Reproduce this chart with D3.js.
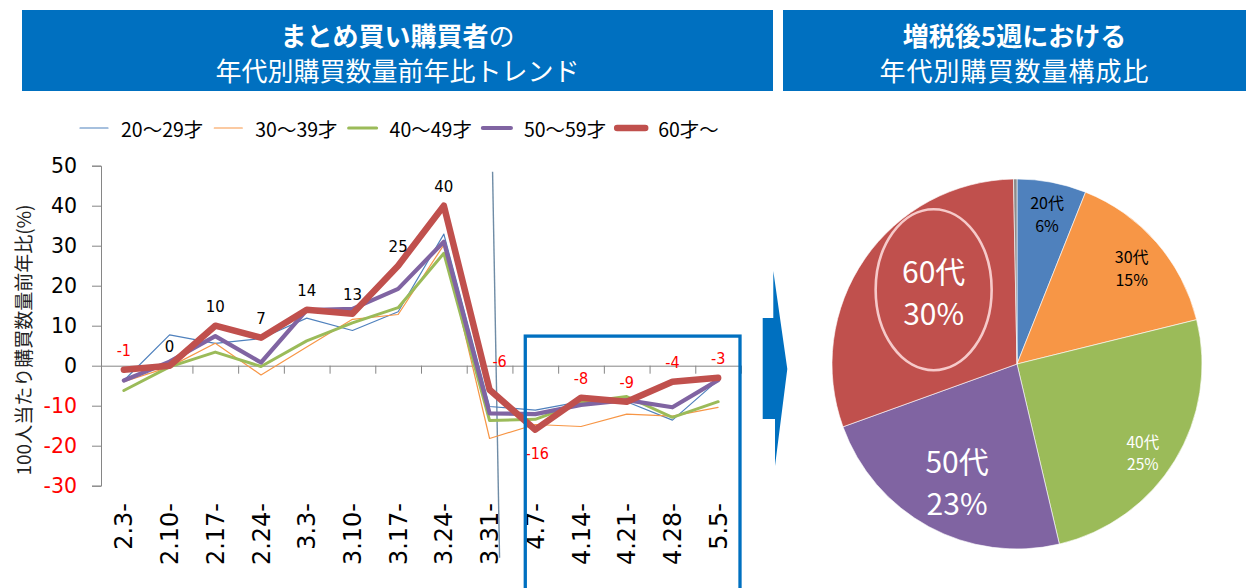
<!DOCTYPE html>
<html lang="ja">
<head>
<meta charset="utf-8">
<script src="https://cdn.jsdelivr.net/npm/d3@7"></script>
<style>
  html, body { margin: 0; padding: 0; background: #fff; }
  svg { display: block; }
  .jp { font-family: "Noto Sans CJK JP", "Noto Sans", sans-serif; }
  .num { font-family: "DejaVu Sans", sans-serif; }
</style>
</head>
<body>
<svg id="chart" width="1246" height="588"></svg>
<script>
// ---- data ----
const weeks = ["2.3", "2.10", "2.17", "2.24", "3.3", "3.10", "3.17", "3.24", "3.31", "4.7", "4.14", "4.21", "4.28", "5.5"];
const weekLabels = ["2.3-", "2.10-", "2.17-", "2.24-", "3.3-", "3.10-", "3.17-", "3.24-", "3.31-", "4.7-", "4.14-", "4.21-", "4.28-", "5.5-"];
const seriesNames = ["20～29才", "30～39才", "40～49才", "50～59才", "60才～"];
const age20s = [-3.7, 7.7, 5.6, 6.8, 11.9, 8.8, 13.5, 32.9, -10.2, -11.1, -9.0, -9.0, -13.6, -3.6];
const age30s = [-4.0, -0.3, 5.6, -2.3, 4.7, 11.6, 12.8, 30.2, -18.2, -14.7, -15.2, -12.1, -12.6, -10.4];
const age40s = [-6.2, -0.3, 3.4, -0.2, 6.2, 10.7, 14.5, 28.1, -13.7, -13.4, -9.2, -7.7, -12.9, -9.0];
const age50s = [-3.7, 1.0, 7.4, 0.8, 13.9, 14.2, 19.2, 31.0, -11.9, -12.1, -9.8, -8.6, -10.4, -3.6];
const age60s = [-1, 0, 10, 7, 14, 13, 25, 40, -6, -16, -8, -9, -4, -3];
const yTicks = [-30, -20, -10, 0, 10, 20, 30, 40, 50];

const pieNames = ["20代", "30代", "40代", "50代", "60代", ""];
const pieShares = [6, 15, 25, 23, 30, 0.3];

// ---- styles ----
const seriesColors = ["#4F81BD", "#F79646", "#9BBB59", "#8064A2", "#C0504D"];
const seriesWidths = [1.2, 1.2, 3, 4.2, 6.5];
const pieColors = ["#4F81BD", "#F79646", "#9BBB59", "#8064A2", "#C0504D", "#8C8C8C"];
const blue = "#0070C0";
const plain = d => String(d);   // keeps an ASCII hyphen for negatives

const svg = d3.select("#chart");

// ---- header bars ----
const headers = [
  { x0: 22, x1: 773, bold: "まとめ買い購買者", rest: "の", line2: "年代別購買数量前年比トレンド", ls: 0 },
  { x0: 783, x1: 1246, bold: "増税後5週における", rest: "", line2: "年代別購買数量構成比", ls: 1 }
];
headers.forEach(h => {
  svg.append("rect").attr("x", h.x0).attr("y", 10).attr("width", h.x1 - h.x0).attr("height", 81).attr("fill", blue);
  const cx = (h.x0 + h.x1) / 2;
  const t1 = svg.append("text").attr("class", "jp").attr("x", cx).attr("y", 33.5)
    .attr("text-anchor", "middle").attr("dominant-baseline", "central").attr("fill", "#fff").attr("font-size", 26);
  t1.append("tspan").attr("font-weight", "bold").text(h.bold);
  if (h.rest) t1.append("tspan").attr("font-weight", "normal").text(h.rest);
  svg.append("text").attr("class", "jp").attr("x", cx).attr("y", 69)
    .attr("text-anchor", "middle").attr("dominant-baseline", "central").attr("fill", "#fff")
    .attr("font-size", 26).attr("letter-spacing", h.ls).text(h.line2);
});

// ---- line chart ----
const x = d3.scaleBand().domain(weeks).range([101, 741]).paddingInner(0).paddingOuter(0);
const xc = w => x(w) + x.bandwidth() / 2;
const y = d3.scaleLinear().domain([-30, 50]).range([485.7, 165.7]);

// y axis
const yAxis = svg.append("g").attr("transform", "translate(101,0)")
  .call(d3.axisLeft(y).tickValues(yTicks).tickSize(9).tickPadding(15).tickFormat(plain));
yAxis.select(".domain").attr("stroke", "#868686");
yAxis.selectAll(".tick line").attr("stroke", "#868686");
yAxis.selectAll(".tick text").attr("class", "num").attr("font-size", 20.5)
  .attr("fill", d => d < 0 ? "#FF0000" : "#000");

// x axis on the zero line, ticks between weeks
const xEdges = d3.scaleLinear().domain([0, weeks.length]).range(x.range());
const xAxis = svg.append("g").attr("transform", `translate(0,${y(0)})`)
  .call(d3.axisBottom(xEdges).ticks(weeks.length).tickSize(8).tickSizeOuter(0).tickFormat(""));
xAxis.select(".domain").attr("stroke", "#868686");
xAxis.selectAll(".tick line").attr("stroke", "#868686");

// week labels below the plot
svg.append("g").selectAll("text").data(weeks).join("text")
  .attr("class", "num")
  .attr("transform", w => `translate(${xc(w)},503) rotate(-90)`)
  .attr("text-anchor", "end").attr("dy", "0.36em")
  .attr("font-size", 24).attr("fill", "#000")
  .text((w, i) => weekLabels[i]);

// y axis title
svg.append("text").attr("class", "jp")
  .attr("transform", "translate(22,340) rotate(-90)")
  .attr("text-anchor", "middle").attr("dominant-baseline", "central")
  .attr("font-size", 19).attr("fill", "#222")
  .text("100人当たり購買数量前年比(%)");

// tax-change divider between 3.31 and 4.7
svg.append("line")
  .attr("x1", xc("3.31") + 3).attr("y1", y(48.5))
  .attr("x2", xc("3.31") + 10).attr("y2", y(-48))
  .attr("stroke", "#6F8CA6").attr("stroke-width", 1.4);

// series lines
const allSeries = [age20s, age30s, age40s, age50s, age60s];
const line = d3.line().x((d, i) => xc(weeks[i])).y(d => y(d));
svg.append("g").selectAll("path").data(allSeries).join("path")
  .attr("d", line)
  .attr("fill", "none")
  .attr("stroke", (d, i) => seriesColors[i])
  .attr("stroke-width", (d, i) => seriesWidths[i])
  .attr("stroke-linejoin", "round").attr("stroke-linecap", "round");

// value labels for the 60+ series
const labelShift = { 8: [10, -28], 9: [2, 24] };
svg.append("g").selectAll("text").data(age60s).join("text")
  .attr("x", (d, i) => xc(weeks[i]) + (labelShift[i] ? labelShift[i][0] : 0))
  .attr("y", (d, i) => y(d) + (labelShift[i] ? labelShift[i][1] : -19))
  .attr("text-anchor", "middle").attr("dominant-baseline", "central")
  .attr("font-family", d => d < 0 ? "'DejaVu Sans Condensed', 'DejaVu Sans', sans-serif" : "'DejaVu Sans', sans-serif")
  .attr("font-size", d => d < 0 ? 16 : 15)
  .attr("fill", d => d < 0 ? "#FF0000" : "#000")
  .text(plain);

// highlight frame around the post-tax weeks
svg.append("rect")
  .attr("x", xc("4.7") - 10).attr("y", y(7.4))
  .attr("width", 740 - (xc("4.7") - 10)).attr("height", y(-60) - y(7.4))
  .attr("fill", "none").attr("stroke", blue).attr("stroke-width", 3.3);

// legend
const legend = svg.append("g").attr("transform", "translate(80,128)");
let lx = 0;
seriesNames.forEach((name, i) => {
  legend.append("line").attr("x1", lx).attr("x2", lx + 28).attr("y1", 0).attr("y2", 0)
    .attr("stroke", seriesColors[i]).attr("stroke-width", seriesWidths[i]).attr("stroke-linecap", "round");
  const t = legend.append("text").attr("class", "jp").attr("x", lx + 41).attr("y", 0)
    .attr("dominant-baseline", "central").attr("font-size", 19.5).attr("fill", "#000").text(name);
  lx += 41 + t.node().getComputedTextLength() + 11;
});

// arrow pointing to the pie
svg.append("path")
  .attr("d", "M762.7,318 L773.3,318 L773.3,271 L787.3,369 L775,466 L775,419 L762.7,419 Z")
  .attr("fill", blue);

// ---- pie chart ----
const cx = 1017, cy = 364, R = 185;
const pie = d3.pie().sort(null).value(d => d)(pieShares);
const arc = d3.arc().innerRadius(0).outerRadius(R);
const pg = svg.append("g").attr("transform", `translate(${cx},${cy})`);
pg.selectAll("path").data(pie).join("path")
  .attr("d", arc)
  .attr("fill", (d, i) => pieColors[i])
  .attr("stroke", "#fff").attr("stroke-width", 0.6);

// label radius, angular nudge (degrees) and type per slice
const pieLabelStyle = [
  { r: 0.83, turn: 0.4, size: 16, color: "#000" },
  { r: 0.81, turn: 1.0, size: 16, color: "#000" },
  { r: 0.83, turn: 3.5, size: 15.5, color: "#fff" },
  { r: 0.71, turn: -1.3, size: 30, color: "#fff" },
  { r: 0.60, turn: 6.8, size: 30, color: "#fff" }
];
pie.slice(0, 5).forEach((d, i) => {
  const st = pieLabelStyle[i];
  const a = (d.startAngle + d.endAngle) / 2 + st.turn * Math.PI / 180;
  const c = [Math.sin(a) * R * st.r, -Math.cos(a) * R * st.r];
  const lh = st.size * 1.4;
  const t = pg.append("text").attr("class", "jp").attr("text-anchor", "middle")
    .attr("font-size", st.size).attr("fill", st.color);
  t.append("tspan").attr("x", c[0]).attr("y", c[1] - lh / 2).attr("dominant-baseline", "central").text(pieNames[i]);
  t.append("tspan").attr("x", c[0]).attr("y", c[1] + lh / 2).attr("dominant-baseline", "central").text(pieShares[i] + "%");
  if (i === 4) {
    pg.append("ellipse").attr("cx", c[0]).attr("cy", c[1] - 1).attr("rx", 58).attr("ry", 80.5)
      .attr("fill", "none").attr("stroke", "#F6CACA").attr("stroke-width", 2.6);
  }
});
</script>
</body>
</html>
